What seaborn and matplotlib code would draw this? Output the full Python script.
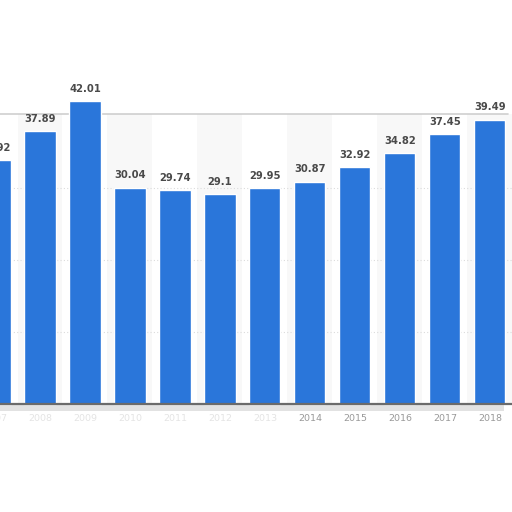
import matplotlib
matplotlib.use("Agg")
import matplotlib.pyplot as plt
import seaborn as sns
import pandas as pd

# Values
years = ["2007", "2008", "2009", "2010", "2011", "2012", "2013",
         "2014", "2015", "2016", "2017", "2018"]
values = [33.92, 37.89, 42.01, 30.04, 29.74, 29.1, 29.95,
          30.87, 32.92, 34.82, 37.45, 39.49]
labels = ["33.92", "37.89", "42.01", "30.04", "29.74", "29.1", "29.95",
          "30.87", "32.92", "34.82", "37.45", "39.49"]
grid_levels = [10, 20, 30]

df = pd.DataFrame({"year": years, "value": values})

sns.set_style("white")
fig = plt.figure(figsize=(5.12, 5.12), dpi=100)
ax = fig.add_axes([0, 0, 1, 1])

sns.barplot(data=df, x="year", y="value", color="#2a76da", saturation=1,
            width=0.69, ax=ax, zorder=2)

ymin, ymax = -15.0, 56.1
band_top = 40.3
xmin, xmax = 0.111, 11.49
ax.set_xlim(xmin, xmax)
ax.set_ylim(ymin, ymax)

# alternating column bands inside the plot area
frac0 = (0 - ymin) / (ymax - ymin)
frac1 = (band_top - ymin) / (ymax - ymin)
for i in range(len(years)):
    if i % 2 == 1:
        ax.axvspan(i - 0.5, i + 0.5, frac0, frac1, color="#f8f8f8", zorder=0, lw=0)

for g in grid_levels:
    ax.axhline(g, color="#dcdcdc", lw=0.8, ls=(0, (1, 2)), zorder=1)

# torn edges
ax.plot([xmin, 11.4], [band_top, band_top], color="#cfcfcf", lw=1.2, zorder=1)
ax.axhspan(-1.0, 0, xmin=0, xmax=0.985, color="#e2e2e2", zorder=1, lw=0)

ax.axhline(0, color="#6b6b6b", lw=1.6, zorder=3)

for i, (v, lab) in enumerate(zip(values, labels)):
    ax.text(i, v + 1.0, lab, ha="center", va="bottom", fontsize=7.2,
            fontweight="bold", color="#4a4a4a", zorder=4)
    tick_color = "#999999" if i >= 7 else "#e4e4e4"
    ax.text(i, -1.4, years[i], ha="center", va="top", fontsize=6.8,
            color=tick_color, zorder=4)

ax.set_xticks([])
ax.set_yticks([])
ax.set_xlabel("")
ax.set_ylabel("")
for s in ax.spines.values():
    s.set_visible(False)

fig.savefig("out.png", dpi=100)
